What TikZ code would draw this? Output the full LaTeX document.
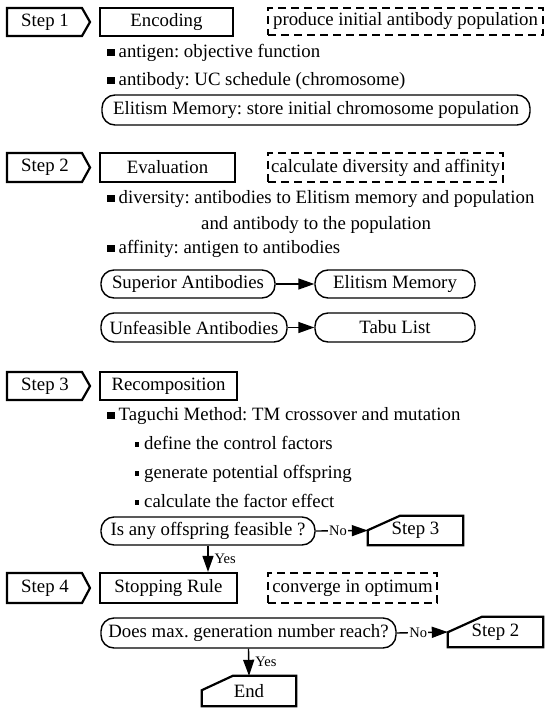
\documentclass[tikz,border=0pt]{standalone}
\usepackage{fontspec}
\setmainfont{Liberation Serif}
\usetikzlibrary{arrows.meta}
\newcommand\bsq{\rule[1pt]{7.5pt}{7.5pt}\hspace{4pt}}
\newcommand\ssq{\rule[2.5pt]{4.5pt}{4.5pt}\hspace{5pt}}
\frenchspacing
\begin{document}
\begin{tikzpicture}[x=1pt,y=-1pt,
  font=\fontsize{18.8}{22}\selectfont,
  box/.style={draw, line width=2.2pt, inner sep=0pt},
  rbox/.style={draw, line width=1.4pt, rounded corners=13pt, inner sep=0pt},
  dbox/.style={draw, line width=1.4pt, dash pattern=on 8pt off 5pt, inner sep=0pt},
  plain/.style={inner sep=0pt},
  txt/.style={inner sep=0pt, anchor=base west},
  stepline/.style={line width=2.2pt, line join=miter},
  arr/.style={line width=1.4pt, -{Triangle[length=16pt,width=11pt]}},
  lab/.style={font=\fontsize{14.5}{16}\selectfont, inner sep=1pt},
  nolab/.style={lab, fill=white}
]
\useasboundingbox (0,0) rectangle (550,713);

% ---------- Step 1 ----------
\node[plain] (s1) at (45,22) {Step 1};
\draw[stepline] (7,8) -- (82,8) -- (90,22) -- (82,36) -- (7,36) -- cycle;
\node[box, minimum width=133pt, minimum height=28pt] (enc) at (166.5,22) {Encoding};
\node[dbox, minimum width=275pt, minimum height=27pt] (d1) at (405.5,21.5) {produce initial antibody population};
\node[txt] (t11) at (107,57) {\bsq antigen: objective function};
\node[txt] (t12) at (107,85) {\bsq antibody: UC schedule (chromosome)};
\node[rbox, minimum width=428pt, minimum height=30pt] (em1) at (316,110) {Elitism Memory: store initial chromosome population};

% ---------- Step 2 ----------
\node[plain] (s2) at (45,167.5) {Step 2};
\draw[stepline] (7,153) -- (82,153) -- (90,167.5) -- (82,182) -- (7,182) -- cycle;
\node[box, minimum width=135pt, minimum height=29pt] (eva) at (167.5,167.5) {Evaluation};
\node[dbox, minimum width=235pt, minimum height=29pt] (d2) at (385.5,167.5) {calculate diversity and affinity};
\node[txt] (t21) at (107,203) {\bsq diversity: antibodies to Elitism memory and population};
\node[txt] (t22) at (201,229) {and antibody to the population};
\node[txt] (t23) at (107,253) {\bsq affinity: antigen to antibodies};
\node[rbox, minimum width=174pt, minimum height=28pt] (sup) at (188,284) {Superior Antibodies};
\node[rbox, minimum width=160pt, minimum height=28pt] (em2) at (395,284) {Elitism Memory};
\node[rbox, minimum width=186pt, minimum height=29pt] (unf) at (194,327.5) {Unfeasible Antibodies};
\node[rbox, minimum width=160pt, minimum height=29pt] (tabu) at (395,327.5) {Tabu List};
\draw[arr] (sup) -- (em2);
\draw[arr] (unf) -- (tabu);

% ---------- Step 3 ----------
\node[plain] (s3) at (45,386) {Step 3};
\draw[stepline] (7,372) -- (82,372) -- (90,386) -- (82,400) -- (7,400) -- cycle;
\node[box, minimum width=137pt, minimum height=28pt] (rec) at (168.5,386) {Recomposition};
\node[txt] (t31) at (107,420) {\bsq Taguchi Method: TM crossover and mutation};
\node[txt] (t32) at (134.5,449) {\ssq define the control factors};
\node[txt] (t33) at (134.5,478) {\ssq generate potential offspring};
\node[txt] (t34) at (134.5,507) {\ssq calculate the factor effect};
\node[rbox, minimum width=214pt, minimum height=28pt] (isany) at (208,531) {Is any offspring feasible ?};
\node[plain, minimum width=95pt, minimum height=29pt] (st3) at (415.5,530.5) {Step 3};
\draw[stepline] (st3.south west) -- ++(0,-15) -- ([xshift=32pt]st3.north west) -- (st3.north east) -- (st3.south east) -- cycle;
\draw[arr] (isany.east) -- node[nolab, pos=0.43] {No} (st3.west);

% ---------- Step 4 ----------
\node[plain] (s4) at (45,588) {Step 4};
\draw[stepline] (7,573) -- (82,573) -- (90,588) -- (82,603) -- (7,603) -- cycle;
\node[box, minimum width=137pt, minimum height=30pt] (stop) at (168.5,588) {Stopping Rule};
\node[dbox, minimum width=169pt, minimum height=30pt] (d4) at (352.5,588) {converge in optimum};
\draw[arr] (isany.south) -- node[lab, right=5pt, pos=0.5] {Yes} (isany.south |- stop.north);
\node[rbox, minimum width=295pt, minimum height=30pt] (does) at (248.5,633) {Does max. generation number reach?};
\node[plain, minimum width=95pt, minimum height=30pt] (st2) at (495.5,632) {Step 2};
\draw[stepline] (st2.south west) -- ++(0,-15) -- ([xshift=34pt]st2.north west) -- (st2.north east) -- (st2.south east) -- cycle;
\draw[arr] (does.east) -- node[nolab, pos=0.42] {No} (st2.west);
\node[plain, minimum width=94pt, minimum height=30pt] (endn) at (249,691) {End};
\draw[stepline] (endn.south west) -- ++(0,-16) -- ([xshift=31pt]endn.north west) -- (endn.north east) -- (endn.south east) -- cycle;
\draw[arr] (does.south) -- node[lab, right=5pt, pos=0.5] {Yes} (endn.north);
\end{tikzpicture}
\end{document}
